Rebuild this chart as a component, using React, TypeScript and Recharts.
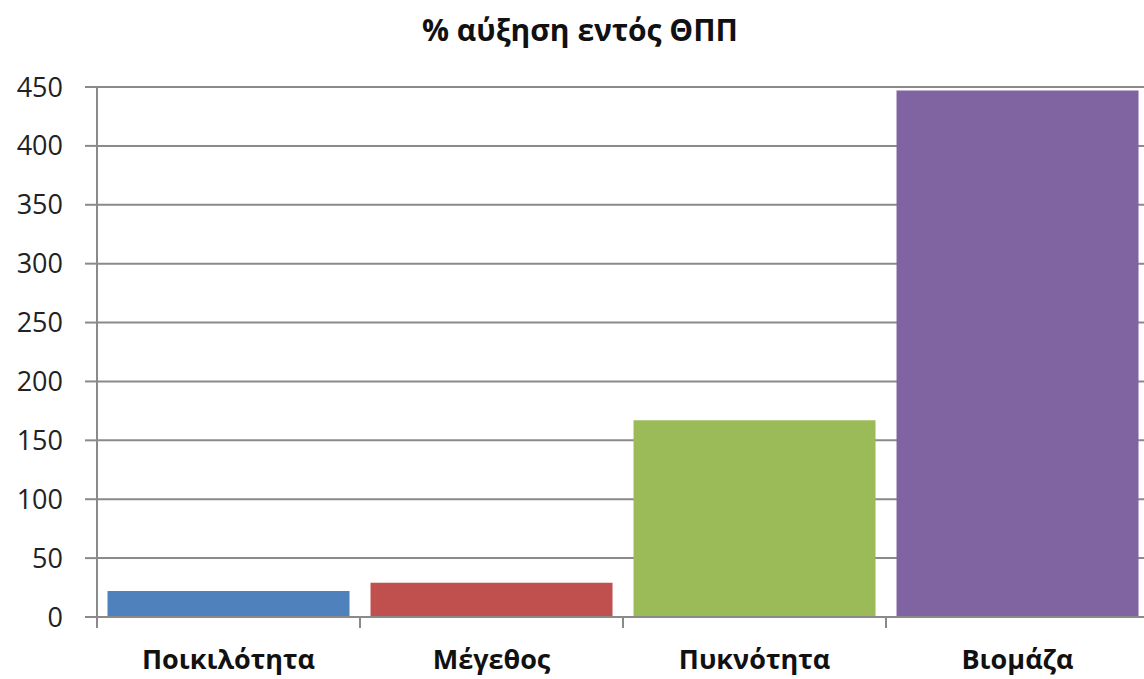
import React from "react";
import { BarChart, Bar, XAxis, YAxis, CartesianGrid, Cell } from "recharts";

const categories = ["Ποικιλότητα", "Μέγεθος", "Πυκνότητα", "Βιομάζα"];
const values = [22, 29, 167, 447];
const colors = ["#4F81BD", "#C0504D", "#9BBB59", "#8064A2"];
const yTicks = [0, 50, 100, 150, 200, 250, 300, 350, 400, 450];
const title = "% αύξηση εντός ΘΠΠ";

const data = categories.map((c, i) => ({ name: c, value: values[i] }));

const FONT = "'Open Sans', 'Noto Sans', sans-serif";
const CHART_W = 1160;
const LEFT = 97;
const RIGHT_M = 11;
const BAND = (CHART_W - LEFT - RIGHT_M) / categories.length;

function CatTick(props: any) {
  const { x, y, payload, index } = props;
  const bx = x - BAND / 2;
  const axisY = y - 10;
  return (
    <g>
      <line x1={bx} x2={bx} y1={axisY} y2={axisY + 11} stroke="#8a8a8a" strokeWidth={2} />
      {index === categories.length - 1 && (
        <line x1={bx + BAND} x2={bx + BAND} y1={axisY} y2={axisY + 11} stroke="#8a8a8a" strokeWidth={2} />
      )}
      <text x={x} y={axisY + 45} textAnchor="middle" dominantBaseline="middle" fill="#111" fontSize={27} fontWeight={700} fontFamily={FONT}>
        {payload.value}
      </text>
    </g>
  );
}

export default function App() {
  return (
    <div style={{ position: "absolute", left: 0, top: 0, width: 1144, height: 679, overflow: "hidden", background: "#fff" }}>
      <div style={{ position: "absolute", left: 0, top: 10, width: CHART_W, textAlign: "center", fontFamily: FONT, fontWeight: 700, fontSize: 30, color: "#111", lineHeight: "40px" }}>
        {title}
      </div>
      <div style={{ position: "absolute", left: 0, top: 0 }}>
        <BarChart width={CHART_W} height={679} data={data} margin={{ top: 87, right: RIGHT_M, left: 0, bottom: 0 }} barCategoryGap="4%">
          <CartesianGrid vertical={false} stroke="#8a8a8a" strokeWidth={2} />
          <XAxis
            dataKey="name"
            height={62}
            axisLine={{ stroke: "#8a8a8a", strokeWidth: 2 }}
            tickLine={false}
            tickSize={0}
            tickMargin={10}
            interval={0}
            tick={<CatTick />}
          />
          <YAxis
            width={LEFT}
            domain={[0, 450]}
            ticks={yTicks}
            interval={0}
            axisLine={{ stroke: "#8a8a8a", strokeWidth: 2 }}
            tickLine={{ stroke: "#8a8a8a", strokeWidth: 2 }}
            tickSize={12}
            tickMargin={22}
            tick={{ fill: "#222", fontSize: 27, fontFamily: FONT }}
          />
          <Bar dataKey="value" isAnimationActive={false}>
            {data.map((d, i) => (
              <Cell key={d.name} fill={colors[i]} />
            ))}
          </Bar>
        </BarChart>
      </div>
    </div>
  );
}
